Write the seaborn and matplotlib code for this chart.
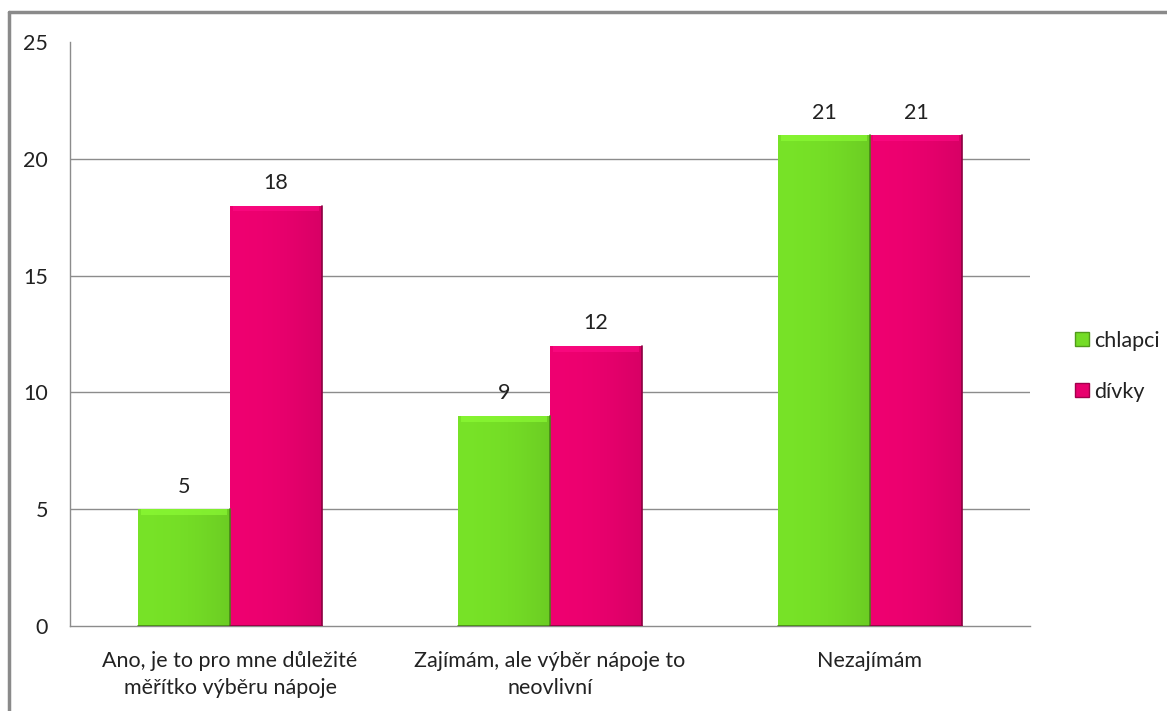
import numpy as np
import pandas as pd
import matplotlib
matplotlib.use("Agg")
import matplotlib.pyplot as plt
import seaborn as sns
from matplotlib.colors import to_rgb
from matplotlib.lines import Line2D

categories = ["Ano, je to pro mne důležité\nměřítko výběru nápoje",
              "Zajímám, ale výběr nápoje to\nneovlivní",
              "Nezajímám"]
series = ["chlapci", "dívky"]
chlapci = [5, 9, 21]
divky = [18, 12, 21]
yticks = [0, 5, 10, 15, 20, 25]

colors = {"chlapci": "#74DC26", "dívky": "#E8006D"}

df = pd.DataFrame({
    "kategorie": categories * 2,
    "pohlaví": ["chlapci"] * 3 + ["dívky"] * 3,
    "počet": chlapci + divky,
})

sns.set_theme(style="white")
plt.rcParams["font.family"] = ["Lato", "DejaVu Sans"]

FS = 15.5
TXT = "#222222"

fig = plt.figure(figsize=(11.67, 7.11), dpi=100)
ax = fig.add_axes([0.06, 0.1195, 0.8226, 0.8214])

sns.barplot(data=df, x="kategorie", y="počet", hue="pohlaví",
            palette=colors, width=0.575, ax=ax, legend=False,
            saturation=1, edgecolor="none", zorder=3)

# shaded fill for each bar: darker toward the right edge, light bevel on top
for patch in ax.patches:
    x0, y0 = patch.get_x(), patch.get_y()
    w, h = patch.get_width(), patch.get_height()
    if h <= 0:
        continue
    base = np.array(to_rgb(patch.get_facecolor()))
    n = 64
    t = np.linspace(0, 1, n)
    shade = 1.03 - 0.10 * t ** 2
    img = np.clip(base[None, None, :] * shade[None, :, None], 0, 1)
    img = np.repeat(img, 2, axis=0)
    im = ax.imshow(img, extent=[x0, x0 + w, y0, y0 + h], aspect="auto",
                   zorder=3.5, interpolation="bilinear")
    im.set_clip_path(patch)
    top = np.clip(base * 1.12 + 0.05, 0, 1)
    ax.fill_between([x0 + 0.01, x0 + w - 0.01], y0 + h - 0.25, y0 + h,
                    color=top, alpha=0.6, zorder=3.6, linewidth=0)
    ax.plot([x0 + w, x0 + w], [y0, y0 + h], color=base * 0.6, lw=1.2, zorder=3.7)
    ax.plot([x0, x0 + w], [y0, y0], color=base * 0.6, lw=1.2, zorder=3.7)

# value labels
for cont in ax.containers:
    ax.bar_label(cont, labels=[f"{v:g}" for v in cont.datavalues],
                 padding=9, fontsize=FS, color=TXT, zorder=5)

ax.set_xlim(-0.5, 2.5)
ax.set_ylim(0, 25)
ax.set_yticks(yticks)
ax.set_yticklabels([str(v) for v in yticks], fontsize=FS, color=TXT)
ax.tick_params(axis="y", length=0, pad=16)
ax.tick_params(axis="x", length=0, pad=18, labelsize=FS, labelcolor=TXT)
for lbl in ax.get_xticklabels():
    lbl.set_linespacing(1.45)
ax.set_xlabel("")
ax.set_ylabel("")

for v in yticks[1:-1]:
    ax.axhline(v, color="#8c8c8c", lw=1.0, zorder=1)

for s in ["top", "right"]:
    ax.spines[s].set_visible(False)
for s in ["left", "bottom"]:
    ax.spines[s].set_color("#8c8c8c")
    ax.spines[s].set_linewidth(1.0)
    ax.spines[s].set_zorder(2)

handles = [Line2D([], [], marker="s", linestyle="none", markersize=10,
                  markerfacecolor=colors[s],
                  markeredgecolor=np.array(to_rgb(colors[s])) * 0.7)
           for s in series]
fig.legend(handles, series, loc="center left", bbox_to_anchor=(0.903, 0.485),
           frameon=False, fontsize=FS, handletextpad=0.15, labelspacing=1.45,
           labelcolor=TXT, handlelength=0.8)

# outer frame around the chart area
fig.add_artist(Line2D([9 / 1167, 9 / 1167], [0, 1 - 12 / 711],
                      transform=fig.transFigure, color="#8a8a8a", lw=2.5))
fig.add_artist(Line2D([9 / 1167, 1], [1 - 12 / 711, 1 - 12 / 711],
                      transform=fig.transFigure, color="#8a8a8a", lw=2.5))

fig.savefig("out.png", dpi=100)
